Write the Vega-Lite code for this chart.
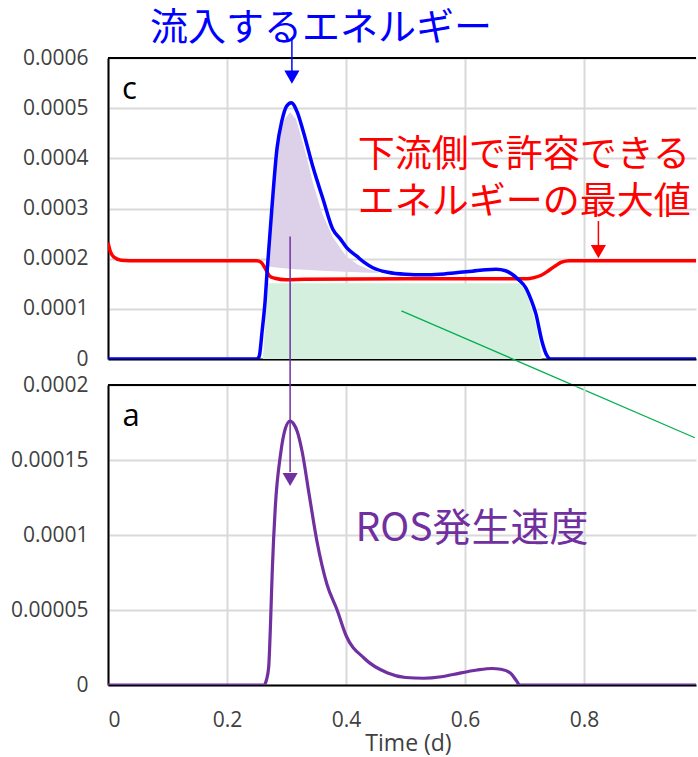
{
  "$schema": "https://vega.github.io/schema/vega-lite/v6.json",
  "background": "white",
  "padding": {"left": 10, "top": 9, "right": 0, "bottom": 0},
  "spacing": 26,
  "bounds": "flush",
  "config": {
    "view": {"stroke": null},
    "axis": {
      "labelFont": "Open Sans", "labelFontSize": 21, "labelColor": "#404040",
      "gridColor": "#d9d9d9", "gridWidth": 2, "ticks": false,
      "domainColor": "#000000", "domainWidth": 2,
      "titleFont": "Open Sans", "titleFontSize": 23, "titleColor": "#404040", "titleFontWeight": "normal"
    }
  },
  "datasets": {
    "inflow": [
      {"t": 0, "v": 0}, {"t": 0.25, "v": 0}, {"t": 0.254, "v": 0.000005}, {"t": 0.259, "v": 0.000056},
      {"t": 0.264, "v": 0.000116}, {"t": 0.267, "v": 0.000169}, {"t": 0.275, "v": 0.000295},
      {"t": 0.284, "v": 0.00042}, {"t": 0.292, "v": 0.000474}, {"t": 0.3, "v": 0.000504},
      {"t": 0.308, "v": 0.000511}, {"t": 0.318, "v": 0.000492}, {"t": 0.328, "v": 0.000454},
      {"t": 0.345, "v": 0.00038}, {"t": 0.361, "v": 0.00032}, {"t": 0.378, "v": 0.000258},
      {"t": 0.39, "v": 0.00024}, {"t": 0.401, "v": 0.000222}, {"t": 0.418, "v": 0.000205},
      {"t": 0.43, "v": 0.000193}, {"t": 0.445, "v": 0.000182}, {"t": 0.47, "v": 0.000173},
      {"t": 0.5, "v": 0.000169}, {"t": 0.53, "v": 0.000168}, {"t": 0.557, "v": 0.000169},
      {"t": 0.585, "v": 0.000172}, {"t": 0.612, "v": 0.000175}, {"t": 0.635, "v": 0.000178},
      {"t": 0.652, "v": 0.000179}, {"t": 0.668, "v": 0.000176}, {"t": 0.679, "v": 0.000169},
      {"t": 0.69, "v": 0.000158}, {"t": 0.702, "v": 0.000142}, {"t": 0.711, "v": 0.000118},
      {"t": 0.719, "v": 0.00009}, {"t": 0.729, "v": 0.000036}, {"t": 0.737, "v": 0.000008},
      {"t": 0.744, "v": 0}, {"t": 1.0, "v": 0}
    ],
    "allowable": [
      {"t": 0, "v": 0.000232}, {"t": 0.004, "v": 0.000214}, {"t": 0.01, "v": 0.000203},
      {"t": 0.022, "v": 0.000197}, {"t": 0.05, "v": 0.000196}, {"t": 0.25, "v": 0.000196},
      {"t": 0.257, "v": 0.000193}, {"t": 0.264, "v": 0.000181}, {"t": 0.271, "v": 0.000166},
      {"t": 0.28, "v": 0.000161}, {"t": 0.3, "v": 0.000158}, {"t": 0.33, "v": 0.000159},
      {"t": 0.5, "v": 0.00016}, {"t": 0.705, "v": 0.00016}, {"t": 0.715, "v": 0.000162},
      {"t": 0.728, "v": 0.000167}, {"t": 0.74, "v": 0.000176}, {"t": 0.752, "v": 0.000186},
      {"t": 0.762, "v": 0.000193}, {"t": 0.775, "v": 0.000196}, {"t": 1.0, "v": 0.000196}
    ],
    "excess": [
      {"t": 0.269, "top": 0.000186, "bot": 0.000185}, {"t": 0.273, "top": 0.00025, "bot": 0.000184},
      {"t": 0.28, "top": 0.00035, "bot": 0.000183}, {"t": 0.287, "top": 0.00043, "bot": 0.000182},
      {"t": 0.295, "top": 0.000475, "bot": 0.000181}, {"t": 0.306, "top": 0.000492, "bot": 0.00018},
      {"t": 0.316, "top": 0.000478, "bot": 0.000179}, {"t": 0.33, "top": 0.00042, "bot": 0.000178},
      {"t": 0.345, "top": 0.000348, "bot": 0.000177}, {"t": 0.36, "top": 0.00029, "bot": 0.000176},
      {"t": 0.378, "top": 0.000242, "bot": 0.000175}, {"t": 0.4, "top": 0.000205, "bot": 0.000174},
      {"t": 0.42, "top": 0.000188, "bot": 0.000173}, {"t": 0.44, "top": 0.000178, "bot": 0.000172},
      {"t": 0.455, "top": 0.000173, "bot": 0.000172}
    ],
    "accepted": [
      {"t": 0.26, "v": 0}, {"t": 0.263, "v": 0.00005}, {"t": 0.266, "v": 0.00011},
      {"t": 0.269, "v": 0.000151}, {"t": 0.694, "v": 0.000151}, {"t": 0.705, "v": 0.000125},
      {"t": 0.713, "v": 0.000095}, {"t": 0.719, "v": 0.000069}, {"t": 0.725, "v": 0.00003},
      {"t": 0.729, "v": 0}
    ],
    "ros": [
      {"t": 0, "v": 0}, {"t": 0.262, "v": 0}, {"t": 0.266, "v": 0.000003}, {"t": 0.27, "v": 0.000012},
      {"t": 0.273, "v": 0.00004}, {"t": 0.276, "v": 0.000076}, {"t": 0.281, "v": 0.000118},
      {"t": 0.29, "v": 0.000154}, {"t": 0.298, "v": 0.000171}, {"t": 0.306, "v": 0.000176},
      {"t": 0.312, "v": 0.000174}, {"t": 0.318, "v": 0.000169}, {"t": 0.326, "v": 0.000156},
      {"t": 0.338, "v": 0.000127}, {"t": 0.351, "v": 0.000096}, {"t": 0.368, "v": 0.000067},
      {"t": 0.385, "v": 0.00005}, {"t": 0.4, "v": 0.000033}, {"t": 0.43, "v": 0.000018},
      {"t": 0.47, "v": 0.000008}, {"t": 0.5, "v": 0.000005}, {"t": 0.53, "v": 0.0000045},
      {"t": 0.56, "v": 0.0000055}, {"t": 0.58, "v": 0.000007}, {"t": 0.62, "v": 0.00001},
      {"t": 0.645, "v": 0.000011}, {"t": 0.66, "v": 0.0000105}, {"t": 0.676, "v": 0.000008},
      {"t": 0.686, "v": 0.000003}, {"t": 0.692, "v": 0}, {"t": 1.0, "v": 0}
    ]
  },
  "vconcat": [
    {
      "width": 588,
      "height": 301,
      "layer": [
        {"data": {"name": "accepted"}, "mark": {"type": "area", "color": "#d5efdf", "clip": true},
         "encoding": {
          "x": {"field": "t", "type": "quantitative", "scale": {"domain": [0, 0.988], "nice": false, "zero": false},
                "axis": {"title": null, "labels": false, "values": [0, 0.2, 0.4, 0.6, 0.8], "grid": true}},
          "y": {"field": "v", "type": "quantitative", "scale": {"domain": [0, 0.0006], "nice": false},
                "axis": {"title": null, "values": [0, 0.0001, 0.0002, 0.0003, 0.0004, 0.0005, 0.0006], "format": ".4~f", "labelPadding": 20}}
         }},
        {"data": {"name": "excess"}, "mark": {"type": "area", "color": "#ddd0e9", "clip": true},
         "encoding": {
          "x": {"field": "t", "type": "quantitative", "scale": {"domain": [0, 0.988], "nice": false, "zero": false},
                "axis": {"title": null, "labels": false, "values": [0, 0.2, 0.4, 0.6, 0.8], "grid": true}},
          "y": {"field": "top", "type": "quantitative", "scale": {"domain": [0, 0.0006], "nice": false},
                "axis": {"title": null, "values": [0, 0.0001, 0.0002, 0.0003, 0.0004, 0.0005, 0.0006], "format": ".4~f", "labelPadding": 20}},
          "y2": {"field": "bot"}
         }},
        {"data": {"name": "allowable"}, "mark": {"type": "line", "color": "#ff0000", "strokeWidth": 3.5, "interpolate": "monotone", "clip": true},
         "encoding": {
          "x": {"field": "t", "type": "quantitative", "scale": {"domain": [0, 0.988], "nice": false, "zero": false},
                "axis": {"title": null, "labels": false, "values": [0, 0.2, 0.4, 0.6, 0.8], "grid": true}},
          "y": {"field": "v", "type": "quantitative", "scale": {"domain": [0, 0.0006], "nice": false},
                "axis": {"title": null, "values": [0, 0.0001, 0.0002, 0.0003, 0.0004, 0.0005, 0.0006], "format": ".4~f", "labelPadding": 20}}
         }},
        {"data": {"name": "inflow"}, "mark": {"type": "line", "color": "#0000ff", "strokeWidth": 3.5, "interpolate": "monotone", "clip": true},
         "encoding": {
          "x": {"field": "t", "type": "quantitative", "scale": {"domain": [0, 0.988], "nice": false, "zero": false},
                "axis": {"title": null, "labels": false, "values": [0, 0.2, 0.4, 0.6, 0.8], "grid": true}},
          "y": {"field": "v", "type": "quantitative", "scale": {"domain": [0, 0.0006], "nice": false},
                "axis": {"title": null, "values": [0, 0.0001, 0.0002, 0.0003, 0.0004, 0.0005, 0.0006], "format": ".4~f", "labelPadding": 20}}
         }},
        {"data": {"values": [{"label": "top border"}]}, "mark": {"type": "rule", "color": "#000000", "strokeWidth": 2},
         "encoding": {"x": {"datum": 0, "type": "quantitative"}, "x2": {"datum": 0.988},
                      "y": {"datum": 0.0006, "type": "quantitative"}}},
        {"data": {"values": [{"label": "c"}]}, "mark": {"type": "text", "font": "Open Sans", "fontSize": 31, "color": "#000000", "align": "center", "baseline": "middle"},
         "encoding": {"x": {"datum": 0.036, "type": "quantitative"}, "y": {"datum": 0.000537, "type": "quantitative"}, "text": {"field": "label"}}},
        {"data": {"values": [{"label": "流入するエネルギー"}]}, "mark": {"type": "text", "font": "Noto Sans CJK JP", "fontSize": 38, "color": "#0000ff", "align": "center", "baseline": "middle"},
         "encoding": {"x": {"datum": 0.358, "type": "quantitative"}, "y": {"datum": 0.000658, "type": "quantitative"}, "text": {"field": "label"}}},
        {"data": {"values": [{"label": "inflow arrow"}]}, "mark": {"type": "rule", "color": "#0000ff", "strokeWidth": 1.5},
         "encoding": {"x": {"datum": 0.309, "type": "quantitative"},
                      "y": {"datum": 0.000642, "type": "quantitative"}, "y2": {"datum": 0.00057}}},
        {"data": {"values": [{"label": "inflow arrowhead"}]}, "mark": {"type": "point", "shape": "triangle-down", "filled": true, "color": "#0000ff", "size": 230, "opacity": 1},
         "encoding": {"x": {"datum": 0.309, "type": "quantitative"}, "y": {"datum": 0.000562, "type": "quantitative"}}},
        {"data": {"values": [{"label": "下流側で許容できる"}]}, "mark": {"type": "text", "font": "Noto Sans CJK JP", "fontSize": 37, "color": "#ff0000", "align": "left", "baseline": "middle"},
         "encoding": {"x": {"datum": 0.4195, "type": "quantitative"}, "y": {"datum": 0.000405, "type": "quantitative"}, "text": {"field": "label"}}},
        {"data": {"values": [{"label": "エネルギーの最大値"}]}, "mark": {"type": "text", "font": "Noto Sans CJK JP", "fontSize": 37, "color": "#ff0000", "align": "left", "baseline": "middle"},
         "encoding": {"x": {"datum": 0.4195, "type": "quantitative"}, "y": {"datum": 0.000311, "type": "quantitative"}, "text": {"field": "label"}}},
        {"data": {"values": [{"label": "max arrow"}]}, "mark": {"type": "rule", "color": "#ff0000", "strokeWidth": 1.5},
         "encoding": {"x": {"datum": 0.824, "type": "quantitative"},
                      "y": {"datum": 0.000275, "type": "quantitative"}, "y2": {"datum": 0.00022}}},
        {"data": {"values": [{"label": "max arrowhead"}]}, "mark": {"type": "point", "shape": "triangle-down", "filled": true, "color": "#ff0000", "size": 230, "opacity": 1},
         "encoding": {"x": {"datum": 0.824, "type": "quantitative"}, "y": {"datum": 0.000214, "type": "quantitative"}}},
        {"data": {"values": [{"label": "green pointer"}]}, "mark": {"type": "rule", "color": "#00b050", "strokeWidth": 1.3},
         "encoding": {"x": {"datum": 0.493, "type": "quantitative"}, "x2": {"datum": 0.986},
                      "y": {"datum": 0.000096, "type": "quantitative"}, "y2": {"datum": -0.000157}}}
      ]
    },
    {
      "width": 588,
      "height": 300,
      "layer": [
        {"data": {"name": "ros"}, "mark": {"type": "line", "color": "#7030a0", "strokeWidth": 3.2, "interpolate": "monotone", "clip": true},
         "encoding": {
          "x": {"field": "t", "type": "quantitative", "scale": {"domain": [0, 0.988], "nice": false, "zero": false},
                "axis": {"title": "Time (d)", "values": [0, 0.2, 0.4, 0.6, 0.8], "format": ".1~f", "labelPadding": 24, "titlePadding": 2, "titleX": 300}},
          "y": {"field": "v", "type": "quantitative", "scale": {"domain": [0, 0.0002], "nice": false},
                "axis": {"title": null, "values": [0, 0.00005, 0.0001, 0.00015, 0.0002], "format": ".5~f", "labelPadding": 20}}
         }},
        {"data": {"values": [{"label": "top border"}]}, "mark": {"type": "rule", "color": "#000000", "strokeWidth": 2},
         "encoding": {"x": {"datum": 0, "type": "quantitative"}, "x2": {"datum": 0.988},
                      "y": {"datum": 0.0002, "type": "quantitative"}}},
        {"data": {"values": [{"label": "a"}]}, "mark": {"type": "text", "font": "Open Sans", "fontSize": 31, "color": "#000000", "align": "center", "baseline": "middle"},
         "encoding": {"x": {"datum": 0.039, "type": "quantitative"}, "y": {"datum": 0.0001787, "type": "quantitative"}, "text": {"field": "label"}}},
        {"data": {"values": [{"label": "ROS発生速度"}]}, "mark": {"type": "text", "font": "Noto Sans CJK JP", "fontSize": 39, "color": "#7030a0", "align": "left", "baseline": "middle"},
         "encoding": {"x": {"datum": 0.416, "type": "quantitative"}, "y": {"datum": 0.000104, "type": "quantitative"}, "text": {"field": "label"}}},
        {"data": {"values": [{"label": "ros arrow"}]}, "mark": {"type": "rule", "color": "#7030a0", "strokeWidth": 1.5},
         "encoding": {"x": {"datum": 0.306, "type": "quantitative"},
                      "y": {"datum": 0.000299, "type": "quantitative"}, "y2": {"datum": 0.000142}}},
        {"data": {"values": [{"label": "ros arrowhead"}]}, "mark": {"type": "point", "shape": "triangle-down", "filled": true, "color": "#7030a0", "size": 230, "opacity": 1},
         "encoding": {"x": {"datum": 0.306, "type": "quantitative"}, "y": {"datum": 0.000137, "type": "quantitative"}}}
      ]
    }
  ]
}
